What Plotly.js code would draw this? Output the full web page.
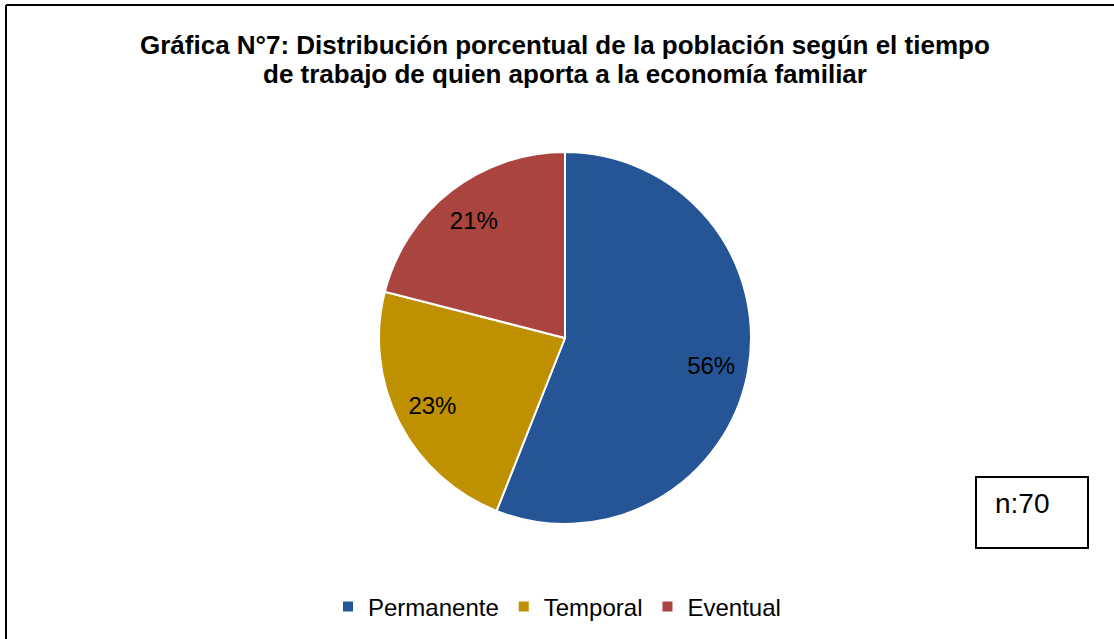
<!DOCTYPE html>
<html>
<head>
<meta charset="utf-8">
<script src="https://cdn.plot.ly/plotly-3.0.1.min.js"></script>
<style>
html,body{margin:0;padding:0;background:#fff;}
#chart{width:1114px;height:639px;}
</style>
</head>
<body>
<div id="chart"></div>
<script>
const categories = ["Permanente", "Temporal", "Eventual"];
const percentages = [56, 23, 21];
const sliceColors = ["#255597", "#BF9000", "#A9443F"];
const titleLines = ["Gráfica N°7: Distribución porcentual de la población según el tiempo", "de trabajo de quien aporta a la economía familiar"];
const sampleNote = "n:70";

const W = 1114, H = 639;
const cx = 565, cy = 338, r = 186;
const FONT = "Liberation Sans, Arial, sans-serif";
const pieDomain = {x: [(cx - r) / W, (cx + r) / W], y: [1 - (cy + r) / H, 1 - (cy - r) / H]};

// filled slices
const basePie = {
  type: "pie",
  labels: categories,
  values: percentages,
  sort: false,
  direction: "clockwise",
  rotation: 0,
  marker: {colors: sliceColors, line: {color: "#ffffff", width: 2}},
  textinfo: "none",
  hoverinfo: "label+percent",
  domain: pieDomain
};

// transparent ring that only carries the percentage labels (placed toward the rim)
const labelRing = {
  type: "pie",
  labels: categories,
  values: percentages,
  sort: false,
  direction: "clockwise",
  rotation: 0,
  hole: 0.6,
  showlegend: false,
  marker: {colors: categories.map(() => "rgba(0,0,0,0)"), line: {width: 0}},
  texttemplate: "%{value}%",
  textposition: "inside",
  insidetextorientation: "horizontal",
  textfont: {family: FONT, size: 24, color: "#000000"},
  hoverinfo: "skip",
  domain: pieDomain
};

const layout = {
  width: W, height: H,
  margin: {l: 0, r: 0, t: 0, b: 0},
  paper_bgcolor: "#ffffff",
  font: {family: FONT, color: "#000000"},
  showlegend: true,
  legend: {
    orientation: "h",
    x: 0.5, xanchor: "center",
    y: 1 - 607 / H, yanchor: "middle",
    font: {size: 24, color: "#000000"},
    itemclick: false
  },
  annotations: [
    {text: "<b>" + titleLines[0] + "</b>", xref: "paper", yref: "paper",
     x: 565 / W, y: 1 - 45 / H, xanchor: "center", yanchor: "middle", showarrow: false,
     font: {size: 26, color: "#000000"}},
    {text: "<b>" + titleLines[1] + "</b>", xref: "paper", yref: "paper",
     x: 565 / W, y: 1 - 74 / H, xanchor: "center", yanchor: "middle", showarrow: false,
     font: {size: 26, color: "#000000"}},
    {text: sampleNote, xref: "paper", yref: "paper", x: 993 / W, y: 1 - 503 / H,
     xanchor: "left", yanchor: "middle", showarrow: false,
     font: {size: 28, color: "#000000"}}
  ],
  shapes: [
    {type: "line", xref: "paper", yref: "paper", x0: 6 / W, x1: 6 / W, y0: 0, y1: 1 - 5 / H, line: {color: "#000", width: 2}},
    {type: "line", xref: "paper", yref: "paper", x0: 6 / W, x1: 1, y0: 1 - 5 / H, y1: 1 - 5 / H, line: {color: "#000", width: 2}},
    {type: "rect", xref: "paper", yref: "paper", x0: 976 / W, x1: 1088 / W, y0: 1 - 548 / H, y1: 1 - 477 / H, line: {color: "#000", width: 2}, fillcolor: "rgba(0,0,0,0)"}
  ]
};

Plotly.newPlot("chart", [basePie, labelRing], layout, {displayModeBar: false, staticPlot: true});
</script>
</body>
</html>
